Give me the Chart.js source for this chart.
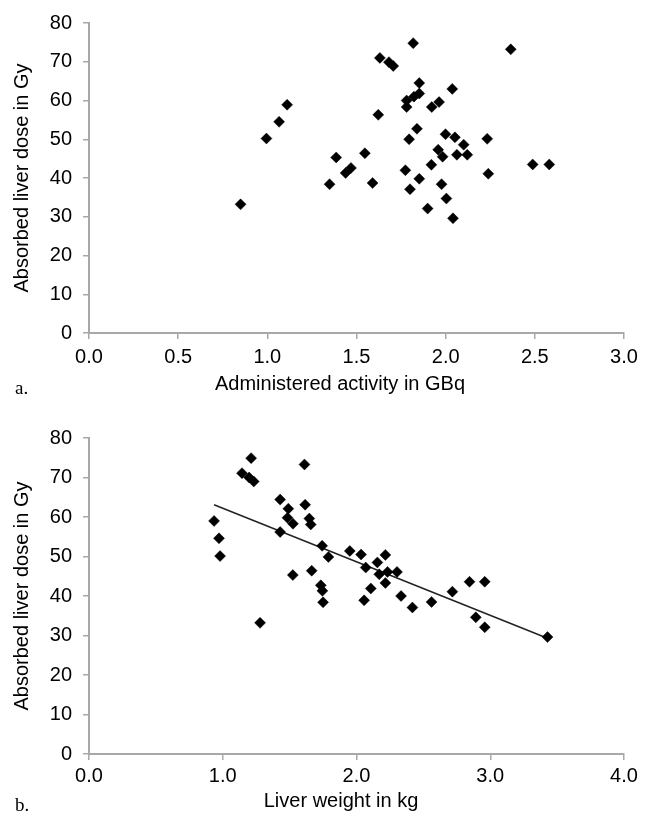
<!DOCTYPE html>
<html>
<head>
<meta charset="utf-8">
<script src="https://cdn.jsdelivr.net/npm/chart.js@4.4.1/dist/chart.umd.min.js"></script>
<style>
  body { margin: 0; background: #fff; }
  .panel { position: absolute; left: 0; }
</style>
</head>
<body>
<div class="panel" style="top:0"><canvas id="activityChart" width="655" height="410"></canvas></div>
<div class="panel" style="top:410px"><canvas id="weightChart" width="655" height="411"></canvas></div>
<script>
// panel a: administered activity (GBq) vs absorbed liver dose (Gy)
const activityGBq = [0.850, 0.995, 1.066, 1.111, 1.349, 1.386, 1.439, 1.469, 1.547, 1.590,
  1.622, 1.631, 1.682, 1.706, 1.818, 1.774, 1.800, 1.795, 1.781, 1.781,
  1.839, 1.852, 1.852, 1.822, 1.852, 1.899, 1.920, 1.922, 1.963, 1.958,
  1.983, 1.977, 2.004, 1.999, 2.041, 2.037, 2.052, 2.063, 2.101, 2.121,
  2.233, 2.239, 2.365, 2.488, 2.581];
const doseA = [33.2, 50.2, 54.5, 58.9, 38.4, 45.3, 41.3, 42.6, 46.4, 38.7,
  56.3, 71.0, 69.9, 68.9, 74.8, 42.0, 37.1, 50.0, 60.0, 58.3,
  52.7, 39.8, 64.5, 61.0, 61.8, 32.1, 43.4, 58.3, 59.6, 47.3,
  45.5, 38.4, 34.7, 51.3, 29.6, 63.0, 50.5, 46.0, 48.6, 46.0,
  50.1, 41.1, 73.2, 43.5, 43.5];

// panel b: liver weight (kg) vs absorbed liver dose (Gy)
const liverKg = [0.935, 0.972, 0.980, 1.144, 1.197, 1.232, 1.212, 1.279, 1.429, 1.490,
  1.484, 1.525, 1.429, 1.524, 1.611, 1.616, 1.647, 1.658, 1.665, 1.733,
  1.745, 1.750, 1.743, 1.790, 1.950, 2.034, 2.069, 2.057, 2.107, 2.156,
  2.216, 2.170, 2.232, 2.216, 2.303, 2.333, 2.418, 2.561, 2.717, 2.845,
  2.959, 2.892, 2.959, 3.428];
const doseB = [59.0, 54.6, 50.1, 71.1, 70.0, 69.0, 74.9, 33.2, 64.4, 62.1,
  59.8, 58.3, 56.2, 45.3, 73.3, 63.1, 59.6, 58.1, 46.4, 42.7,
  41.3, 38.4, 52.7, 49.9, 51.4, 50.5, 47.2, 38.9, 41.9, 48.5,
  50.4, 45.5, 46.1, 43.3, 46.1, 40.0, 37.1, 38.5, 41.1, 43.6,
  43.6, 34.6, 32.1, 29.6];

const activityTicks = [0, 0.5, 1.0, 1.5, 2.0, 2.5, 3.0];
const weightTicks = [0, 1.0, 2.0, 3.0, 4.0];
const doseTicks = [0, 10, 20, 30, 40, 50, 60, 70, 80];

const SANS = '"Liberation Sans", Arial, Helvetica, sans-serif';
const SERIF = '"Liberation Serif", "Times New Roman", serif';
const AXIS_GREY = '#a8a8a8';

// linear least squares, like the spreadsheet trendline
function fitLine(xs, ys) {
  const n = xs.length;
  const mx = xs.reduce((a, b) => a + b, 0) / n;
  const my = ys.reduce((a, b) => a + b, 0) / n;
  let sxy = 0, sxx = 0;
  for (let i = 0; i < n; i++) {
    sxy += (xs[i] - mx) * (ys[i] - my);
    sxx += (xs[i] - mx) * (xs[i] - mx);
  }
  const slope = sxy / sxx;
  return { slope, intercept: my - slope * mx };
}

// x axis title + panel letter drawn under the plot
const panelCaption = {
  id: 'panelCaption',
  afterDraw(chart, args, opts) {
    const ctx = chart.ctx;
    const bottom = chart.chartArea.bottom + opts.shift;
    ctx.save();
    ctx.fillStyle = '#000';
    ctx.textBaseline = 'alphabetic';
    ctx.font = '20px ' + SANS;
    ctx.textAlign = 'center';
    ctx.fillText(opts.title, opts.titleX, bottom + 57);
    ctx.font = '19px ' + SERIF;
    ctx.textAlign = 'left';
    ctx.fillText(opts.label, 15, bottom + 61);
    ctx.restore();
  }
};

function axisBase(tickValues, min, max, fmt) {
  return {
    type: 'linear',
    min: min,
    max: max,
    afterBuildTicks: s => { s.ticks = tickValues.map(v => ({ value: v })); },
    border: { display: true, color: AXIS_GREY, width: 2 },
    grid: { drawOnChartArea: false, drawTicks: true, tickLength: 6, color: AXIS_GREY, lineWidth: 1.5 },
    ticks: { color: '#000', font: { family: SANS, size: 20 }, callback: fmt }
  };
}

function makeChart(id, xs, ys, xTicks, xMax, caption, top, labelPad, withTrend) {
  const points = xs.map((x, i) => ({ x: x, y: ys[i] }));
  const datasets = [{
    type: 'scatter',
    data: points,
    pointStyle: 'rectRot',
    pointRadius: 5.5,
    pointHoverRadius: 5.5,
    backgroundColor: '#000',
    borderColor: 'rgba(0,0,0,0.45)',
    borderWidth: 1
  }];
  if (withTrend) {
    const fit = fitLine(xs, ys);
    const x0 = Math.min(...xs), x1 = Math.max(...xs);
    datasets.push({
      type: 'line',
      data: [{ x: x0, y: fit.intercept + fit.slope * x0 }, { x: x1, y: fit.intercept + fit.slope * x1 }],
      borderColor: '#222',
      borderWidth: 1.5,
      pointRadius: 0,
      fill: false
    });
  }
  const canvas = document.getElementById(id);
  const h = canvas.height;
  const plotBottom = top + 316;

  const xAxis = axisBase(xTicks, 0, xMax, v => v.toFixed(1));
  xAxis.ticks.padding = labelPad;
  xAxis.afterFit = s => { s.height = h - plotBottom; };

  const yAxis = axisBase(doseTicks, 0, 80, v => v);
  yAxis.ticks.padding = 11;
  yAxis.title = {
    display: true,
    text: 'Absorbed liver dose in Gy',
    color: '#000',
    font: { family: SANS, size: 20 },
    padding: { top: 10, bottom: 0 }
  };
  yAxis.afterFit = s => { s.width = 89; };

  return new Chart(canvas, {
    data: { datasets: datasets },
    options: {
      responsive: false,
      animation: false,
      devicePixelRatio: 1,
      layout: { padding: { left: 0, right: 31, top: top, bottom: 0 } },
      scales: { x: xAxis, y: yAxis },
      plugins: {
        legend: { display: false },
        tooltip: { enabled: false },
        panelCaption: caption
      }
    },
    plugins: [panelCaption]
  });
}

makeChart('activityChart', activityGBq, doseA, activityTicks, 3.0,
  { title: 'Administered activity in GBq', titleX: 340, label: 'a.', shift: 0 }, 17, 6, false);
makeChart('weightChart', liverKg, doseB, weightTicks, 4.0,
  { title: 'Liver weight in kg', titleX: 341, label: 'b.', shift: -4 }, 28, 4, true);
</script>
</body>
</html>
